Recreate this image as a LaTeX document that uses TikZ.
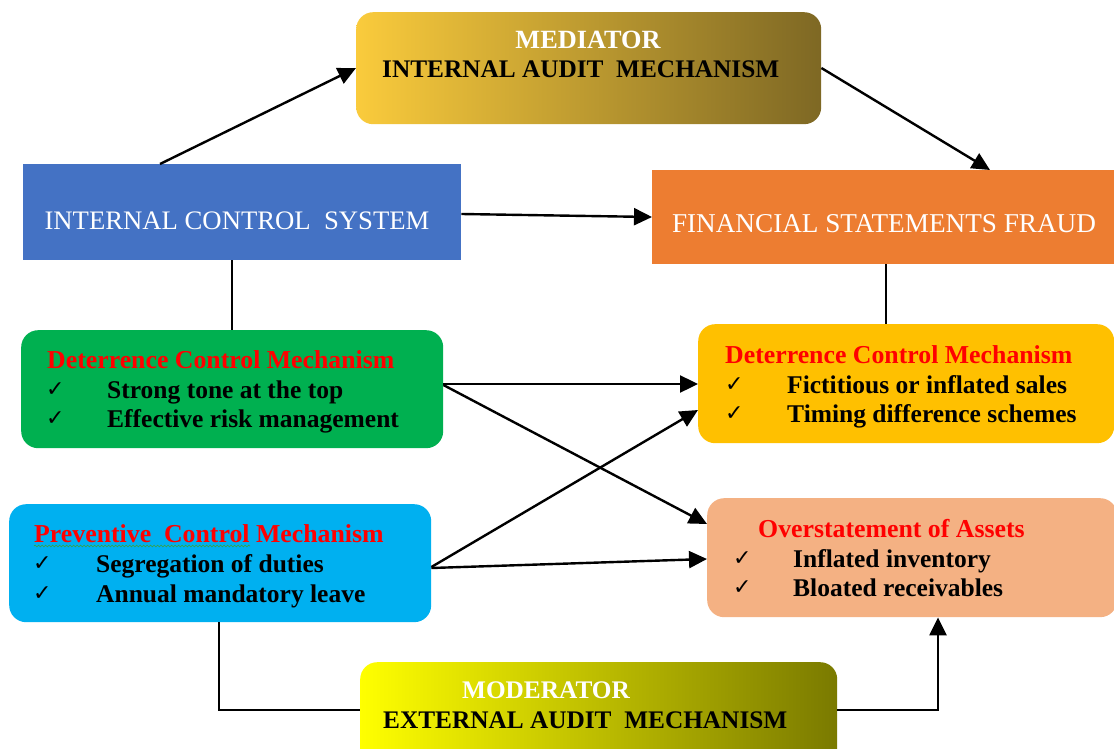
\documentclass[tikz,border=0pt]{standalone}
\usepackage{fontspec}
\setmainfont{Liberation Serif}
\newfontfamily\chkfont{DejaVu Sans}
\usetikzlibrary{arrows.meta,decorations.pathmorphing}
\definecolor{icsblue}{HTML}{4472C4}
\definecolor{fsforange}{HTML}{ED7D31}
\definecolor{dgreen}{HTML}{00B050}
\definecolor{pblue}{HTML}{00B0F0}
\definecolor{fyellow}{HTML}{FFC000}
\definecolor{fpeach}{HTML}{F4B183}
\definecolor{medL}{HTML}{FACB3C}
\definecolor{medR}{HTML}{7E6824}
\definecolor{modL}{HTML}{FFFF00}
\definecolor{modR}{HTML}{7A7A00}
\definecolor{hred}{HTML}{FF0000}
\definecolor{wavy}{HTML}{3CA03C}
\begin{document}
\begin{tikzpicture}[x=1pt,y=-1pt,
  box/.style={anchor=north west, inner sep=0pt, draw=none, rectangle},
  rbox/.style={box, rounded corners=17pt},
  bigtxt/.style={anchor=base, inner sep=0pt, text=white, font=\fontsize{27.2}{31}\selectfont},
  midtxt/.style={anchor=base west, inner sep=0pt, font=\bfseries\fontsize{25.3}{29}\selectfont},
  head/.style={anchor=base west, inner sep=0pt, text=hred, font=\bfseries\fontsize{25.8}{29}\selectfont},
  item/.style={anchor=base west, inner sep=0pt, font=\bfseries\fontsize{25.5}{29}\selectfont},
  chk/.style={anchor=base west, inner sep=0pt, font=\chkfont\fontsize{22}{24}\selectfont},
  arr/.style={draw=black, line width=2.4pt, -{Triangle[length=18pt,width=17pt]}},
  ln/.style={draw=black, line width=2.4pt},
]
\useasboundingbox (0,0) rectangle (1114,749);
\clip (0,0) rectangle (1114,749);

% boxes
\node[rbox, left color=medL, right color=medR, minimum width=465pt, minimum height=112pt] (med) at (356,12) {};
\node[box, fill=icsblue, minimum width=438pt, minimum height=96pt] (ics) at (23,164) {};
\node[box, fill=fsforange, minimum width=470pt, minimum height=94pt] (fsf) at (652,170) {};
\node[rbox, fill=dgreen, minimum width=422pt, minimum height=118pt] (grn) at (21,330) {};
\node[rbox, fill=pblue, minimum width=422pt, minimum height=118pt] (blu) at (9,504) {};
\node[rbox, fill=fyellow, minimum width=416pt, minimum height=119pt] (yel) at (698,324) {};
\node[rbox, fill=fpeach, minimum width=410pt, minimum height=119pt] (pch) at (707,498) {};
\node[rbox, left color=modL, right color=modR, minimum width=477pt, minimum height=110pt] (mod) at (360,662) {};

% box texts
\node[midtxt, text=white, font=\bfseries\fontsize{26.3}{30}\selectfont, anchor=base] (medt1) at (588,49) {MEDIATOR};
\node[midtxt] (medt2) at (382,78) {INTERNAL AUDIT\ \ MECHANISM};
\node[bigtxt, font=\fontsize{26.7}{31}\selectfont] (icst) at (237,229) {INTERNAL CONTROL\ \ SYSTEM};
\node[bigtxt] (fsft) at (884,232) {FINANCIAL STATEMENTS FRAUD};
\node[midtxt, text=white, anchor=base] (modt1) at (546,698) {MODERATOR};
\node[midtxt] (modt2) at (383,728) {EXTERNAL AUDIT\ \ MECHANISM};

% green
\node[head] (g0) at (47,368) {Deterrence Control Mechanism};
\node[chk] (gc1) at (46,396) {✓};
\node[item] (g1) at (107,398) {Strong tone at the top};
\node[chk] (gc2) at (46,425) {✓};
\node[item] (g2) at (107,427) {Effective risk management};
% blue
\node[head] (b0) at (34,542) {Preventive\ \ Control Mechanism};
\draw[wavy, line width=0.6pt, decorate, decoration={snake, amplitude=0.9pt, segment length=3.5pt}] (b0.base west) ++(0,4) -- ++(216,0);
\node[chk] (bc1) at (33,570) {✓};
\node[item] (b1) at (96,572) {Segregation of duties};
\node[chk] (bc2) at (33,600) {✓};
\node[item] (b2) at (96,602) {Annual mandatory leave};
% yellow
\node[head] (y0) at (725,363) {Deterrence Control Mechanism};
\node[chk] (yc1) at (725,391) {✓};
\node[item] (y1) at (787,393) {Fictitious or inflated sales};
\node[chk] (yc2) at (725,420) {✓};
\node[item] (y2) at (787,422) {Timing difference schemes};
% peach
\node[head] (p0) at (758,537) {Overstatement of Assets};
\node[chk] (pc1) at (733,565) {✓};
\node[item] (p1) at (793,567) {Inflated inventory};
\node[chk] (pc2) at (733,594) {✓};
\node[item] (p2) at (793,596) {Bloated receivables};

% connectors
\draw[arr] (ics.north -| 160,0) -- (med.west |- 0,68);
\draw[arr] (med.east |- 0,68) -- (fsf.north -| 990,0);
\draw[arr] (ics.east |- 0,214) -- (fsf.west |- 0,217);
\draw[ln] (ics.south -| 232,0) -- (grn.north -| 232,0);
\draw[ln] (fsf.south -| 886,0) -- (yel.north -| 886,0);
\draw[arr] (grn.east |- 0,384) -- (yel.west |- 0,384);
\draw[arr] (grn.east |- 0,385) -- (pch.west |- 0,524);
\draw[arr] (blu.east |- 0,567) -- (yel.west |- 0,410);
\draw[arr] (blu.east |- 0,568) -- (pch.west |- 0,559);
\draw[ln] (blu.south -| 219,0) |- (mod.west |- 0,710);
\draw[arr] (mod.east |- 0,710) -| (pch.south -| 938,0);
\end{tikzpicture}
\end{document}
